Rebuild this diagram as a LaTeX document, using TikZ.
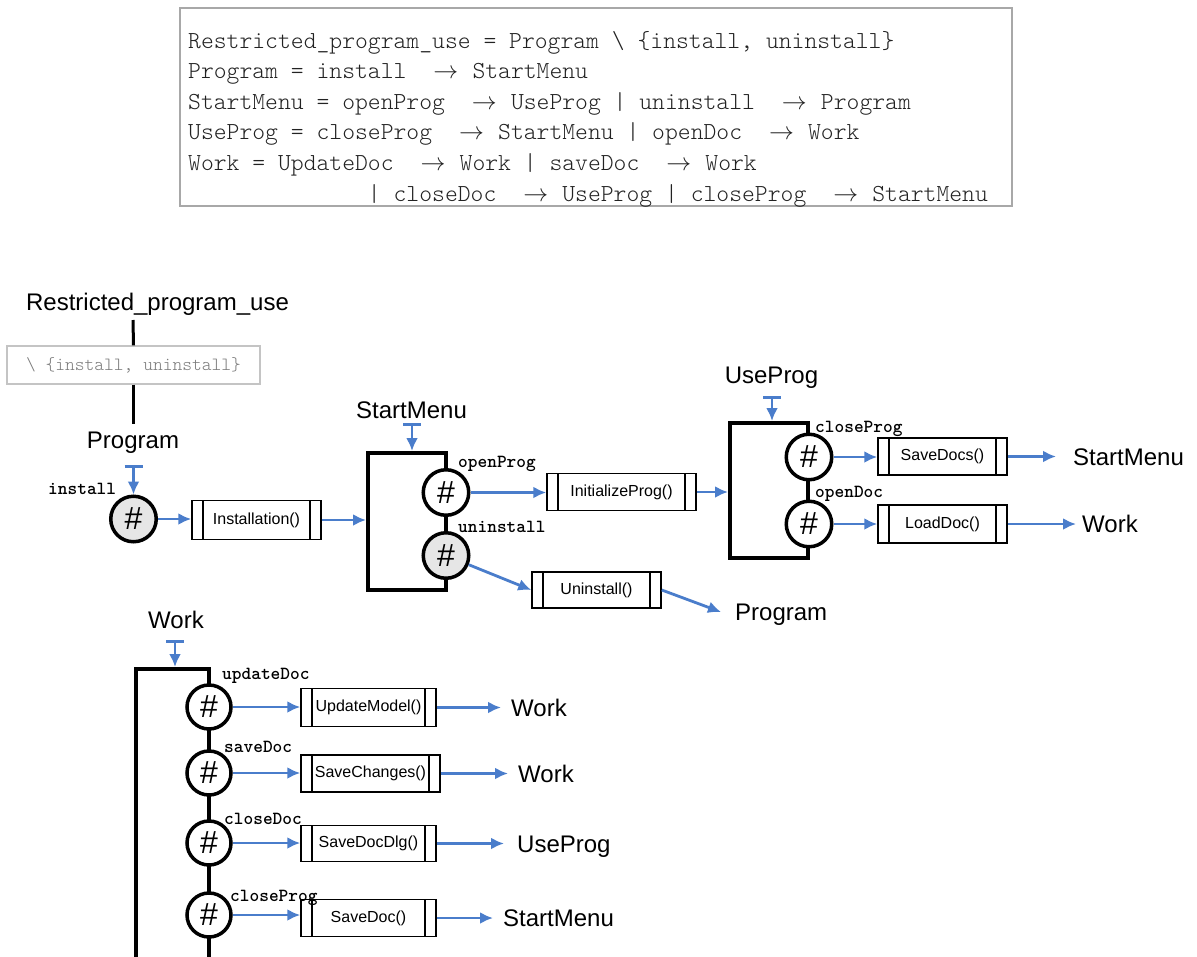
\documentclass[tikz,border=0pt]{standalone}
\usepackage{fontspec}
\newfontfamily\sansf{Liberation Sans}
\usetikzlibrary{arrows.meta}

\definecolor{flowblue}{HTML}{4A7DCB}
\definecolor{framegray}{HTML}{A8A8A8}
\definecolor{setgray}{HTML}{C4C4C4}
\definecolor{hashgray}{HTML}{E6E6E6}
\definecolor{codegray}{HTML}{7A7A7A}
\definecolor{codeink}{HTML}{222222}

% typewriter face scaled to a given character pitch (#1, in pt) and series (#2)
\newlength\pitchlen
\newcommand\pitchtt[2]{\ttfamily\fontseries{#2}\fontsize{20pt}{24pt}\selectfont
  \settowidth\pitchlen{M}\pgfmathsetmacro\pitchsize{20*#1/\pitchlen}%
  \fontsize{\pitchsize pt}{\pitchsize pt}\selectfont}
% arrow used in the process equations
\newcommand\arr{\makebox[27.5pt]{$\rightarrow$}}

\begin{document}
\begin{tikzpicture}[x=1pt,y=-1pt,
  flow/.style={draw=flowblue, line width=2.8pt, -{Latex[length=13pt,width=12pt]}},
  entry/.style={draw=flowblue, line width=2.8pt, {Bar[width=18pt]}-{Latex[length=13pt,width=12pt]}},
  stem/.style={line width=3pt},
  block/.style={draw, line width=4pt, inner sep=0},
  hashc/.style={circle, draw, line width=3.5pt, fill=white, minimum size=45.5pt, inner sep=0,
    font=\sansf\fontsize{32pt}{32pt}\selectfont},
  proc/.style={draw, line width=1.5pt, inner sep=0, font=\sansf\fontsize{16pt}{16pt}\selectfont,
    path picture={
      \draw[line width=1.5pt] ([xshift=11pt]path picture bounding box.north west) -- ([xshift=11pt]path picture bounding box.south west);
      \draw[line width=1.5pt] ([xshift=-11pt]path picture bounding box.north east) -- ([xshift=-11pt]path picture bounding box.south east);}},
  ev/.style={anchor=west, inner sep=0, text height=10pt, text depth=0pt, font=\pitchtt{9.7}{b}},
  big/.style={inner sep=0, font=\sansf\fontsize{24pt}{24pt}\selectfont, text height=17.2pt, text depth=0pt},
  dest/.style={big, anchor=west},
  code/.style={anchor=base west, inner sep=0, font=\pitchtt{12.84}{l}\color{codeink}}
]
\useasboundingbox (0,0) rectangle (1197,956);

% ---- process equations ----
\draw[framegray, line width=1.2pt] (180,8) rectangle (1012,206);
\node[code] (cl1) at (188,48)    {Restricted\_program\_use = Program \textbackslash\ \{install, uninstall\}};
\node[code] (cl2) at (188,78.6)  {Program = install\ \ \arr\ StartMenu};
\node[code] (cl3) at (188,109.2) {StartMenu = openProg\ \ \arr\ UseProg | uninstall\ \ \arr\ Program};
\node[code] (cl4) at (188,139.8) {UseProg = closeProg\ \ \arr\ StartMenu | openDoc\ \ \arr\ Work};
\node[code] (cl5) at (188,170.4) {Work = UpdateDoc\ \ \arr\ Work | saveDoc\ \ \arr\ Work};
\node[code] (cl6) at (188,201)   {\hspace*{179.76pt}| closeDoc\ \ \arr\ UseProg | closeProg\ \ \arr\ StartMenu};

% ---- restriction ----
\node[big, anchor=base] (rpu) at (157.5,310) {Restricted\_program\_use};
\coordinate (rpuFoot) at (133,320);
\node[draw=setgray, line width=1.2pt, minimum width=253pt, minimum height=38pt, inner sep=0,
      font=\pitchtt{9.77}{l}\color{codegray}] (setbox) at (133.5,365) {\textbackslash\ \{install, uninstall\}};
\coordinate (progHead) at (133.5,424);
\draw[stem] (rpuFoot) -- (setbox.north);
\draw[stem] (setbox.south) -- (progHead);

% ---- Program ----
\node[big, anchor=base] (progLbl) at (133,448) {Program};
\coordinate (progIn) at (133.5,465);
\node[hashc, fill=hashgray] (hInstall) at (133.5,519) {\#};
\node[ev] (eInstall) at (48,489) {install};
\node[proc, minimum width=129pt, minimum height=39pt] (pInstall) at (256.5,520) {Installation()};
\draw[entry] (progIn) -- (hInstall.north);
\draw[flow] (hInstall.east) -- (hInstall.east -| pInstall.west);

% ---- StartMenu ----
\node[big, anchor=base] (smLbl) at (411.5,418) {StartMenu};
\node[block, minimum width=78pt, minimum height=137pt] (smBlock) at (407,521.5) {};
\coordinate (smIn) at (412,423);
\draw[entry] (smIn) -- (smIn |- smBlock.north);
\draw[flow] (pInstall.east) -- (pInstall.east -| smBlock.west);
\node[hashc] (hOpenProg) at (446,492.5) {\#};
\node[hashc, fill=hashgray] (hUninstall) at (446,555.5) {\#};
\node[ev] (eOpenProg) at (458,462) {openProg};
\node[ev] (eUninstall) at (458,527) {uninstall};
\node[proc, minimum width=149pt, minimum height=37pt] (pInit) at (621.5,492) {InitializeProg()};
\node[proc, minimum width=129pt, minimum height=36pt] (pUninst) at (596.5,590) {Uninstall()};
\node[dest] (dProg) at (735,612) {Program};
\draw[flow] (hOpenProg.east) -- (hOpenProg.east -| pInit.west);
\draw[flow] (hUninstall) -- (pUninst.west);
\draw[flow] (pUninst.east) -- ([xshift=-14pt]dProg.west);

% ---- UseProg ----
\node[big, anchor=base] (upLbl) at (771.5,383) {UseProg};
\node[block, minimum width=78pt, minimum height=135pt] (upBlock) at (769,490.5) {};
\coordinate (upIn) at (772,396);
\draw[entry] (upIn) -- (upIn |- upBlock.north);
\draw[flow] (pInit.east) -- (pInit.east -| upBlock.west);
\node[hashc] (hCloseProgU) at (809,457) {\#};
\node[hashc] (hOpenDoc) at (809,524) {\#};
\node[ev] (eCloseProgU) at (815,427) {closeProg};
\node[ev] (eOpenDoc) at (815,492) {openDoc};
\node[proc, minimum width=129pt, minimum height=37pt] (pSaveDocs) at (942.5,456.5) {SaveDocs()};
\node[proc, minimum width=129pt, minimum height=38pt] (pLoadDoc) at (942.5,524) {LoadDoc()};
\node[dest] (dSM1) at (1073,456.5) {StartMenu};
\node[dest] (dW1) at (1082,524) {Work};
\draw[flow] (hCloseProgU.east) -- (hCloseProgU.east -| pSaveDocs.west);
\draw[flow] (hOpenDoc.east) -- (hOpenDoc.east -| pLoadDoc.west);
\draw[flow] (pSaveDocs.east) -- ([xshift=-17pt]dSM1.west);
\draw[flow] (pLoadDoc.east) -- ([xshift=-6pt]dW1.west);

% ---- Work ----
\node[big, anchor=base] (wLbl) at (176,628) {Work};
\node[block, minimum width=73pt, minimum height=331pt] (wBlock) at (172.5,834.5) {};
\coordinate (wIn) at (175,640);
\draw[entry] (wIn) -- (wIn |- wBlock.north);
\node[hashc, minimum size=44pt] (hUpdate) at (209,707) {\#};
\node[hashc, minimum size=44pt] (hSave) at (209,773) {\#};
\node[hashc, minimum size=44pt] (hCloseDoc) at (209,843) {\#};
\node[hashc, minimum size=44pt] (hCloseProgW) at (209,915) {\#};
\node[ev] (eUpdate) at (222,674) {updateDoc};
\node[ev] (eSave) at (224,747) {saveDoc};
\node[ev] (eCloseDoc) at (224,819) {closeDoc};
\node[ev] (eCloseProgW) at (230,896) {closeProg};
\node[proc, minimum width=135pt, minimum height=38pt] (pUpdModel) at (368.5,707.5) {UpdateModel()};
\node[proc, minimum width=139pt, minimum height=37pt] (pSaveCh) at (370.5,773.5) {SaveChanges()};
\node[proc, minimum width=135pt, minimum height=36pt] (pSaveDlg) at (368.5,843.5) {SaveDocDlg()};
\node[proc, minimum width=135pt, minimum height=37pt] (pSaveDoc) at (368.5,918) {SaveDoc()};
\node[dest] (dW2) at (511,707.5) {Work};
\node[dest] (dW3) at (518,773.5) {Work};
\node[dest] (dUP) at (517,843.5) {UseProg};
\node[dest] (dSM2) at (503,918) {StartMenu};
\draw[flow] (hUpdate.east) -- (hUpdate.east -| pUpdModel.west);
\draw[flow] (hSave.east) -- (hSave.east -| pSaveCh.west);
\draw[flow] (hCloseDoc.east) -- (hCloseDoc.east -| pSaveDlg.west);
\draw[flow] (hCloseProgW.east) -- (hCloseProgW.east -| pSaveDoc.west);
\draw[flow] (pUpdModel.east) -- ([xshift=-10pt]dW2.west);
\draw[flow] (pSaveCh.east) -- ([xshift=-10pt]dW3.west);
\draw[flow] (pSaveDlg.east) -- ([xshift=-13pt]dUP.west);
\draw[flow] (pSaveDoc.east) -- ([xshift=-10pt]dSM2.west);
\end{tikzpicture}
\end{document}
